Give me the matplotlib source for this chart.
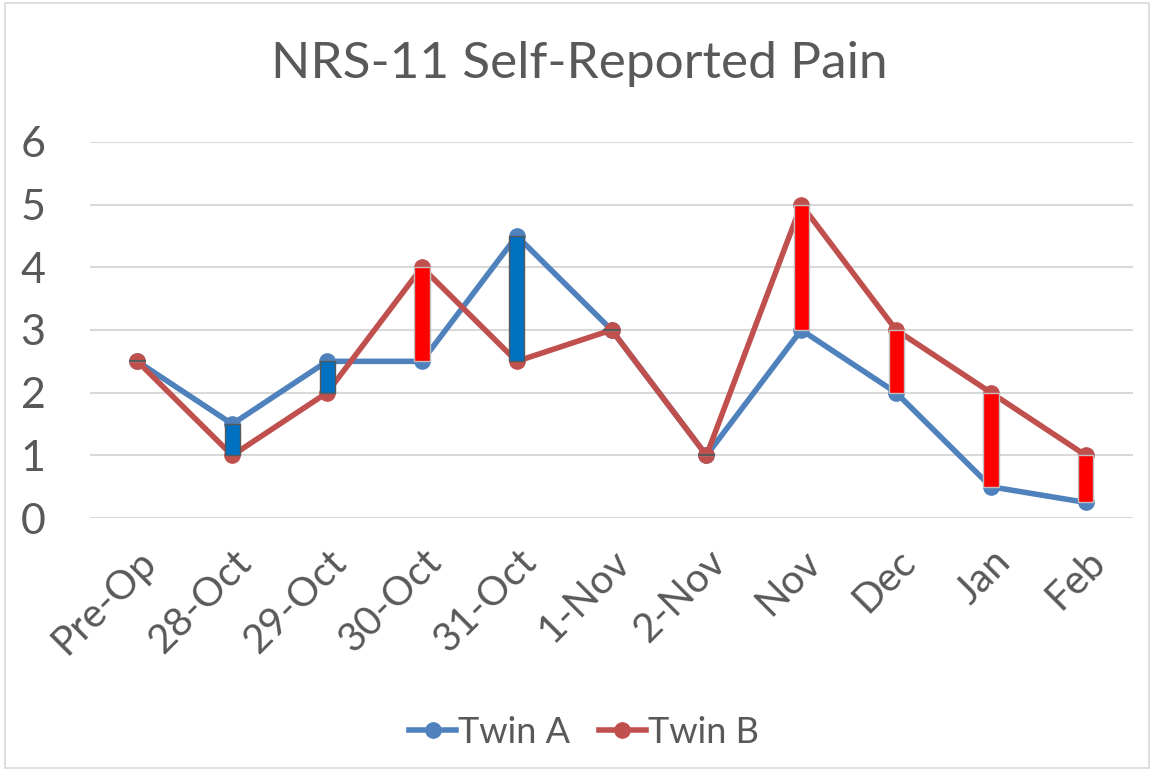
import numpy as np
import matplotlib.pyplot as plt
from matplotlib.patches import Rectangle

plt.rcParams['font.family'] = ['Lato', 'DejaVu Sans']

categories = ['Pre-Op', '28-Oct', '29-Oct', '30-Oct', '31-Oct', '1-Nov', '2-Nov',
              'Nov', 'Dec', 'Jan', 'Feb']
twin_a = [2.5, 1.5, 2.5, 2.5, 4.5, 3, 1, 3, 2, 0.5, 0.25]
twin_b = [2.5, 1, 2, 4, 2.5, 3, 1, 5, 3, 2, 1]

BLUE = '#4F81BD'
RED = '#C0504D'
TXT = '#595959'

fig = plt.figure(figsize=(11.54, 7.71), dpi=100)
ax = fig.add_axes([0.078, 0.328, 0.904, 0.488])

x = np.arange(len(categories))
a = np.array(twin_a)
b = np.array(twin_b)

ax.plot(x, a, color=BLUE, lw=4, marker='o', ms=11, label='Twin A', zorder=3)
ax.plot(x, b, color=RED, lw=4, marker='o', ms=11, label='Twin B', zorder=3)

# up/down bars (Excel style)
for xi, ai, bi in zip(x, a, b):
    if bi >= ai:
        ax.bar(xi, bi - ai, bottom=ai, width=0.16, color='#FF0000',
               edgecolor='#BFBFBF', lw=1, zorder=4)
    else:
        ax.bar(xi, ai - bi, bottom=bi, width=0.16, color='#0070C0',
               edgecolor='#595959', lw=1, zorder=4)
    if bi == ai:
        ax.plot([xi - 0.08, xi + 0.08], [ai, ai], color='#595959', lw=1.5, zorder=4)

ax.set_xlim(-0.5, len(categories) - 0.5)
ax.set_ylim(0, 6)
ax.set_yticks(range(0, 7))
ax.yaxis.grid(True, color='#D9D9D9', lw=1.5)
ax.set_axisbelow(True)
for s in ax.spines.values():
    s.set_visible(False)
ax.tick_params(axis='both', length=0, colors=TXT)
ax.tick_params(axis='y', labelsize=31, pad=50)
ax.set_xticks(x)
ax.set_xticklabels(categories, rotation=45, ha='right', rotation_mode='anchor',
                   fontsize=29)
ax.tick_params(axis='x', pad=18)
for t in ax.get_yticklabels():
    t.set_ha('left')

fig.text(0.502, 0.917, 'NRS-11 Self-Reported Pain', ha='center', va='center',
         fontsize=37, color=TXT)

fig.legend(loc='center', bbox_to_anchor=(0.506, 0.05), ncol=2, frameon=False,
           fontsize=26, labelcolor=TXT, handlelength=1.3, handletextpad=0.05,
           columnspacing=0.8)

fig.patches.append(Rectangle((0.004, 0.004), 0.992, 0.992, transform=fig.transFigure,
                             fill=False, edgecolor='#D9D9D9', lw=1.2))

fig.savefig('out.png', dpi=100)
